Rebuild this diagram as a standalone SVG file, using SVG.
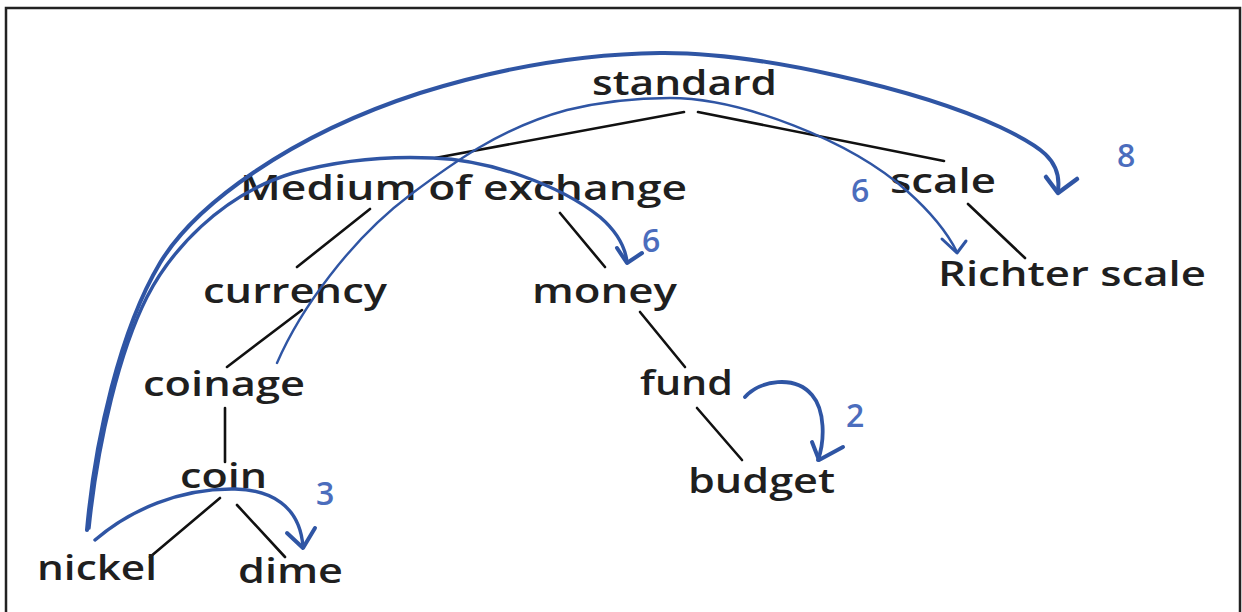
<svg xmlns="http://www.w3.org/2000/svg" width="1242" height="612" viewBox="0 0 1242 612">
<style>
.lbl{font-family:"Open Sans","Liberation Sans",sans-serif;font-size:34px;font-weight:600;fill:#1f1f1f}
.num{font-family:"Open Sans","Liberation Sans",sans-serif;font-size:32px;font-weight:600;fill:#4b6dbd}
.edge{stroke:#111;stroke-width:2.6;fill:none;stroke-linecap:round}
.arc{stroke:#2f55a4;fill:none;stroke-linecap:round;stroke-linejoin:round}
</style>
<rect x="0" y="0" width="1242" height="612" fill="#fff"/>
<path d="M6,612 V8 H1240 V612" fill="none" stroke="#222" stroke-width="2.5"/>
<g id="tree-edges">
<line class="edge" x1="684" y1="112" x2="435" y2="158"/>
<line class="edge" x1="698" y1="112" x2="944" y2="161"/>
<line class="edge" x1="370" y1="209" x2="297" y2="267"/>
<line class="edge" x1="560" y1="213" x2="605" y2="267"/>
<line class="edge" x1="968" y1="204" x2="1025" y2="258"/>
<line class="edge" x1="302" y1="310" x2="227" y2="367"/>
<line class="edge" x1="225" y1="408" x2="225" y2="462"/>
<line class="edge" x1="220" y1="498" x2="150" y2="557"/>
<line class="edge" x1="237" y1="505" x2="285" y2="557"/>
<line class="edge" x1="640" y1="312" x2="685" y2="367"/>
<line class="edge" x1="697" y1="408" x2="742" y2="460"/>
</g>
<g id="node-standard"><text class="lbl" x="592" y="95" textLength="185" lengthAdjust="spacingAndGlyphs">standard</text></g>
<g id="node-medium"><text class="lbl" x="240" y="200" textLength="447" lengthAdjust="spacingAndGlyphs">Medium of exchange</text></g>
<g id="node-scale"><text class="lbl" x="890" y="193" textLength="106" lengthAdjust="spacingAndGlyphs">scale</text></g>
<g id="node-richter"><text class="lbl" x="938" y="286" textLength="268" lengthAdjust="spacingAndGlyphs">Richter scale</text></g>
<g id="node-currency"><text class="lbl" x="203" y="303" textLength="184" lengthAdjust="spacingAndGlyphs">currency</text></g>
<g id="node-money"><text class="lbl" x="532" y="303" textLength="145" lengthAdjust="spacingAndGlyphs">money</text></g>
<g id="node-coinage"><text class="lbl" x="143" y="396" textLength="162" lengthAdjust="spacingAndGlyphs">coinage</text></g>
<g id="node-fund"><text class="lbl" x="640" y="395" textLength="93" lengthAdjust="spacingAndGlyphs">fund</text></g>
<g id="node-coin"><text class="lbl" x="180" y="488" textLength="87" lengthAdjust="spacingAndGlyphs">coin</text></g>
<g id="node-budget"><text class="lbl" x="688" y="493" textLength="147" lengthAdjust="spacingAndGlyphs">budget</text></g>
<g id="node-nickel"><text class="lbl" x="37" y="580" textLength="120" lengthAdjust="spacingAndGlyphs">nickel</text></g>
<g id="node-dime"><text class="lbl" x="238" y="583" textLength="105" lengthAdjust="spacingAndGlyphs">dime</text></g>
<g id="connectors">
<path class="arc" stroke-width="4" d="M87,530 C95,440 120,330 160,263 C195,205 290,135 420,93 C500,68 580,54 660,53 C760,52 920,90 1000,127 C1040,146 1062,160 1058,190"/>
<polyline class="arc" stroke-width="4.5" points="1046,177 1058,193 1077,179"/>
<path class="arc" stroke-width="3.4" d="M89,528 C98,440 120,350 147,297 C170,252 220,195 293,173 C340,160 390,156 433,158 C490,160 560,185 600,217 C615,230 625,245 627,262"/>
<polyline class="arc" stroke-width="4" points="617,248 627,263 642,253"/>
<path class="arc" stroke-width="2.4" d="M277,363 C300,310 350,240 410,195 C450,165 500,128 567,110 C600,102 635,98 670,98 C740,98 850,140 907,191 C925,207 945,228 957,252"/>
<polyline class="arc" stroke-width="3" points="942,239 957,253 966,241"/>
<path class="arc" stroke-width="3.4" d="M95,540 C130,510 180,488 235,489 C270,490 300,505 303,547"/>
<polyline class="arc" stroke-width="4" points="287,533 303,548 315,528"/>
<path class="arc" stroke-width="3.8" d="M745,397 C760,380 795,375 812,395 C825,410 825,440 818,460"/>
<polyline class="arc" stroke-width="4" points="812,442 819,460 843,447"/>
</g>
<g id="labels">
<text class="num" x="1117" y="167">8</text>
<text class="num" x="851" y="202">6</text>
<text class="num" x="642" y="252">6</text>
<text class="num" x="846" y="427">2</text>
<text class="num" x="316" y="505">3</text>
</g>
</svg>
